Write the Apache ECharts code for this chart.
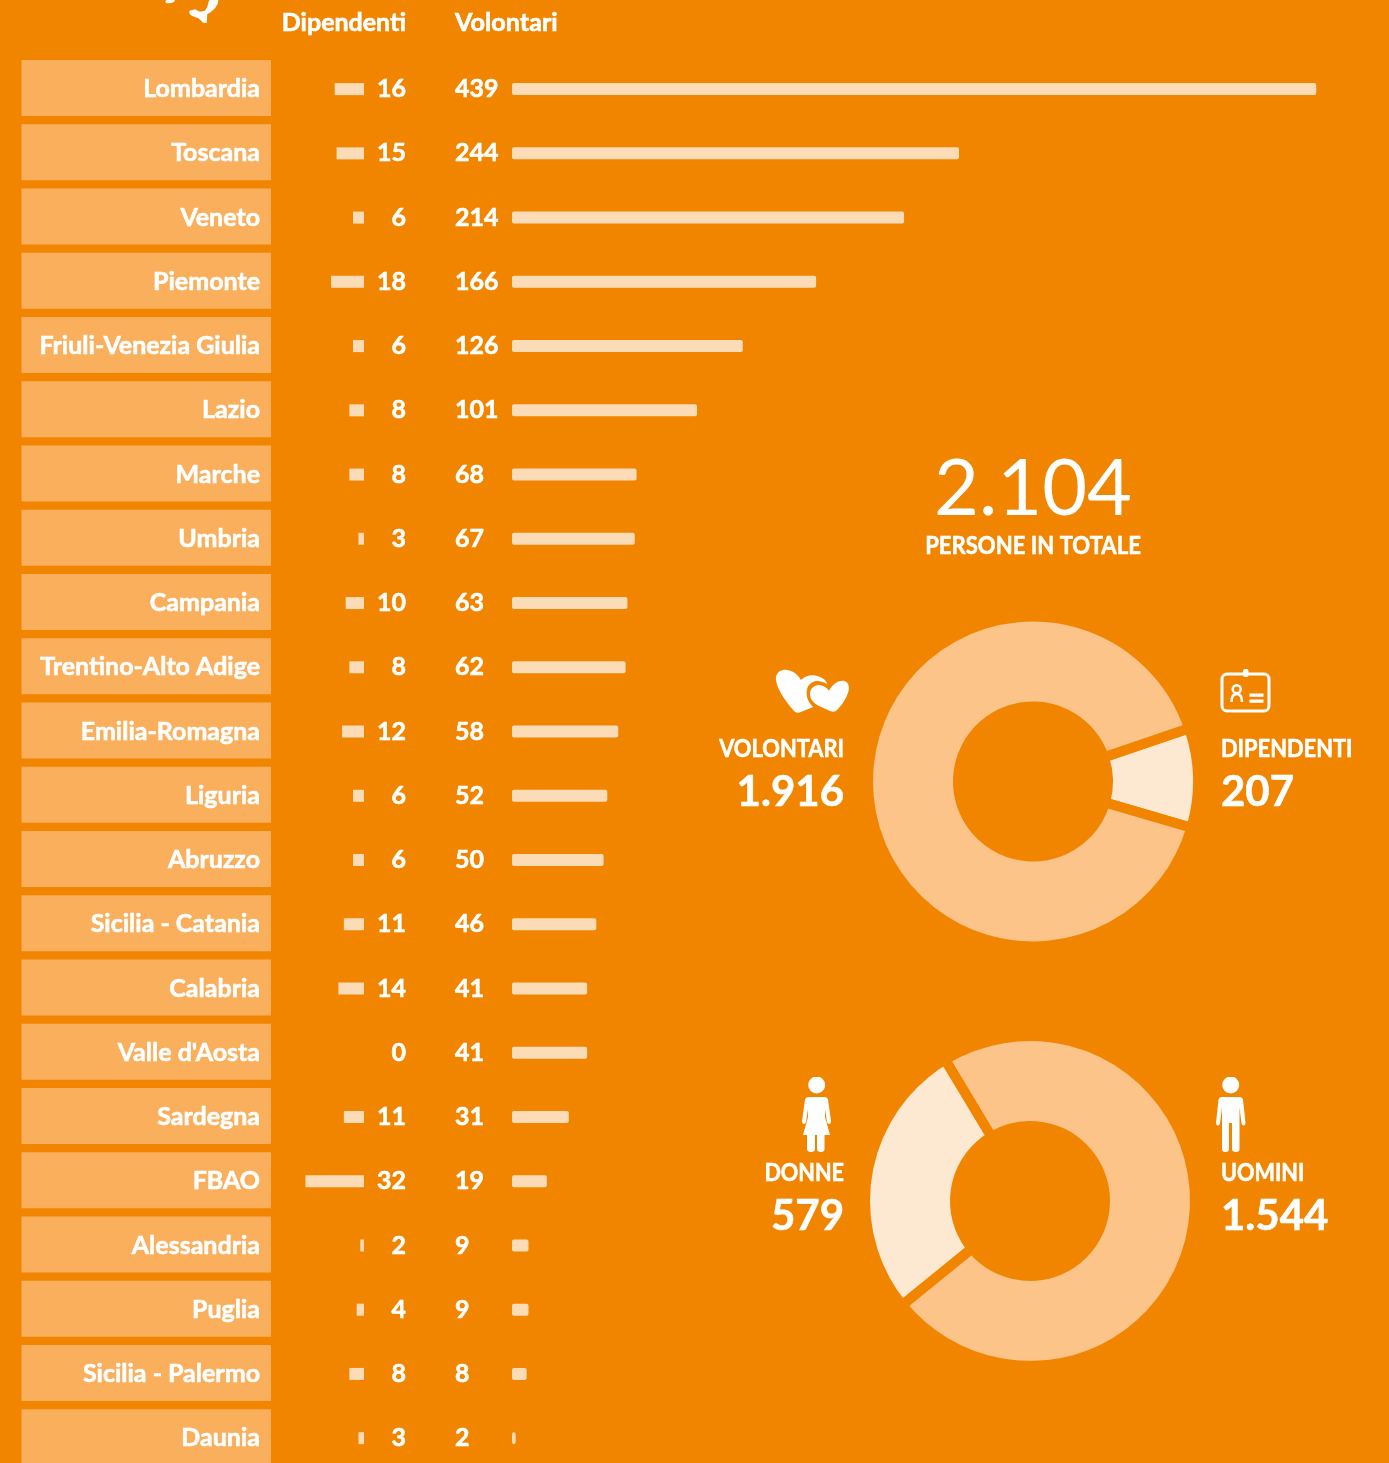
<!DOCTYPE html>
<html>
<head>
<meta charset="utf-8">
<style>html,body{margin:0;padding:0;background:#f28500;height:1463px;overflow:hidden}#chart{width:1389px;height:1480px}</style>
<script src="https://cdn.jsdelivr.net/npm/echarts@6/dist/echarts.min.js"></script>
</head>
<body>
<div id="chart"></div>
<script>
const regioni = ["Lombardia","Toscana","Veneto","Piemonte","Friuli-Venezia Giulia","Lazio","Marche","Umbria","Campania","Trentino-Alto Adige","Emilia-Romagna","Liguria","Abruzzo","Sicilia - Catania","Calabria","Valle d'Aosta","Sardegna","FBAO","Alessandria","Puglia","Sicilia - Palermo","Daunia"];
const dipendenti = [16,15,6,18,6,8,8,3,10,8,12,6,6,11,14,0,11,32,2,4,8,3];
const volontari = [439,244,214,166,126,101,68,67,63,62,58,52,50,46,41,41,31,19,9,9,8,2];
const tipoNomi = ["Dipendenti","Volontari"];
const tipoValori = [207,1916];
const genereNomi = ["Uomini","Donne"];
const genereValori = [1544,579];

const FONT = "Lato";
const BG = "#f28500";
const BAND = "#faaf5d";
const BAR = "#fcdcb6";
const RING = "#fcc489";
const RING_LIGHT = "#fde8d2";
const ROW_TOP = 57, ROW_H = 1413.3;

// Lato bold is a bit lighter than the original face, a thin outline makes up for it
const heavy = { textBorderColor: "#fff", textBorderWidth: 0.6 };

function txt(x, y, text, size, align, weight, sx) {
  const bold = !weight || weight === "bold";
  return {
    type: "text", x: x, y: y, scaleX: sx || 1,
    style: Object.assign({ text: text, fill: "#fff", font: (weight || "bold") + " " + size + "px " + FONT, textAlign: align, textVerticalAlign: "middle" }, bold ? { stroke: "#fff", lineWidth: 0.6 } : {}),
  };
}
// icons are plain svg drawn through a graphic image element
function icon(body, x, y, w, h) {
  const svg = '<svg xmlns="http://www.w3.org/2000/svg" width="' + w + '" height="' + h + '" viewBox="0 0 ' + w + ' ' + h + '" fill="#fff">' + body + "</svg>";
  return { type: "image", x: x, y: y, style: { image: "data:image/svg+xml;charset=utf-8," + encodeURIComponent(svg), width: w, height: h } };
}
const HEAD = '<circle cx="15.7" cy="8" r="8.5"/>';
const MAN = HEAD + '<path d="M8 20H25Q27.5 20 28 22.5L30.5 46Q30.5 48.5 28.5 48.5 27 48.5 26.5 46.5L24.5 30V72Q24.5 75 21 75 17 75 17 72V46H14V72Q14 75 10.5 75 7 75 7 72V30L5 46.5Q4.5 48.5 3 48.5 1 48.5 1 46L3.5 22.5Q4 20 6.5 20Z"/>';
const WOMAN = HEAD + '<path d="M8 20H24Q26.5 20 27 22.5L30 44Q30 47 28 47 26.5 47 26 45L24 32V40L29 58H23.5V72Q23.5 75 20 75 16 75 16 72V58H14V72Q14 75 10 75 6 75 6 72V58H2L7 40V32L5 45Q4.5 47 3 47 1 47 1 44L4 22.5Q4.5 20 7 20Z"/>';
const HEARTS = '<path d="M11 20C10 13 16 9 22 10 29 11 33 15 36 20 41 15 48 14 55 17 60 19 62 22 62 24 55 20 49 20 45 24 41 27 41 35 43 40 44 42 46 45 48 47L36 52C33 53 31 53 29 51 22 43 12 30 11 20Z"/><path d="M45 34C45 27 52 23 58 26 61 27 63 29 64 31 67 25 73 20 79 21 84 22 85 28 83 33 80 41 76 46 72 50 70 52 68 52 65 51 57 47 45 44 45 34Z"/>';
const BADGE = '<rect x="12" y="14" width="47" height="37" rx="5" fill="none" stroke="#fff" stroke-width="3"/><rect x="33" y="9" width="5.5" height="8" rx="2"/><circle cx="26.7" cy="29.3" r="4" fill="none" stroke="#fff" stroke-width="2.5"/><path d="M21.5 42C21.5 36 24 34 26.7 34 29.5 34 32 36 32 42" fill="none" stroke="#fff" stroke-width="2.5"/><rect x="39.5" y="33.5" width="14" height="3.3"/><rect x="39.5" y="39.5" width="14" height="3.3"/>';
const ITALIA = '<g transform="scale(0.3333)"><path d="M45 5L50 0H75L72 6 60 10H50Z"/><path d="M118 32L135 28 150 35 165 32 172 20 175 8 178 0H205L203 12 195 25 180 38 172 42 170 70 160 68 145 55 125 47 118 40Z"/></g>';

const chart = echarts.init(document.getElementById("chart"));
chart.setOption({
  backgroundColor: BG,
  animation: false,
  textStyle: { fontFamily: FONT },
  grid: [
    { left: 21.5, width: 249.5, top: ROW_TOP - 1, height: ROW_H },
    { left: 181, width: 183, top: ROW_TOP, height: ROW_H },
    { left: 512, width: 824.4, top: ROW_TOP, height: ROW_H },
  ],
  xAxis: [
    { gridIndex: 0, type: "value", min: 0, max: 1, show: false },
    { gridIndex: 1, type: "value", min: 0, max: 100, inverse: true, show: false },
    { gridIndex: 2, type: "value", min: 0, max: 450, show: false },
  ],
  yAxis: [
    { gridIndex: 0, type: "category", inverse: true, data: regioni, show: false },
    {
      gridIndex: 1, type: "category", inverse: true, position: "right", data: dipendenti.map(String),
      axisLine: { show: false }, axisTick: { show: false },
      axisLabel: Object.assign({ interval: 0, margin: 42, align: "right", color: "#fff", fontFamily: FONT, fontWeight: "bold", fontSize: 25 }, heavy),
    },
    {
      gridIndex: 2, type: "category", inverse: true, data: volontari.map(String),
      axisLine: { show: false }, axisTick: { show: false },
      axisLabel: Object.assign({ interval: 0, margin: 57, align: "left", color: "#fff", fontFamily: FONT, fontWeight: "bold", fontSize: 25 }, heavy),
    },
  ],
  series: [
    {
      type: "bar", xAxisIndex: 0, yAxisIndex: 0, barWidth: 56, silent: true,
      data: regioni.map(() => 1),
      itemStyle: { color: BAND },
      label: Object.assign({
        show: true, position: "insideRight", distance: 11, offset: [0, 1], color: "#fff",
        fontFamily: FONT, fontWeight: "bold", fontSize: 25,
        formatter: (p) => p.name,
      }, heavy),
    },
    { type: "bar", xAxisIndex: 1, yAxisIndex: 1, barWidth: 12, data: dipendenti, itemStyle: { color: BAR } },
    { type: "bar", xAxisIndex: 2, yAxisIndex: 2, barWidth: 12, data: volontari, itemStyle: { color: BAR, borderRadius: 2 } },
    {
      type: "pie", center: [1033, 781.5], radius: [75, 165], startAngle: 18.8, silent: true,
      label: { show: false }, labelLine: { show: false },
      itemStyle: { borderColor: BG, borderWidth: 10 },
      data: tipoNomi.map((n, i) => ({ name: n, value: tipoValori[i], itemStyle: { color: i === 0 ? RING_LIGHT : RING } })),
    },
    {
      type: "pie", center: [1030, 1201], radius: [75, 165], startAngle: 121, silent: true,
      label: { show: false }, labelLine: { show: false },
      itemStyle: { borderColor: BG, borderWidth: 10 },
      data: genereNomi.map((n, i) => ({ name: n, value: genereValori[i], itemStyle: { color: i === 1 ? RING_LIGHT : RING } })),
    },
  ],
  graphic: [
    txt(406, 23, "Dipendenti", 24, "right", "bold", 1.04),
    txt(455, 23, "Volontari", 24, "left", "bold", 1.05),
    txt(1033, 490, "2.104", 77.5, "center", "normal"),
    txt(1033, 546, "PERSONE IN TOTALE", 24, "center", "bold", 0.92),
    txt(844, 749, "VOLONTARI", 24, "right", "bold", 0.91),
    txt(844, 792, "1.916", 42, "right"),
    txt(1221, 749, "DIPENDENTI", 24, "left", "bold", 0.91),
    txt(1221, 792, "207", 42, "left"),
    txt(844, 1173, "DONNE", 24, "right", "bold", 0.9),
    txt(844, 1216, "579", 42, "right"),
    txt(1221, 1173, "UOMINI", 24, "left", "bold", 0.9),
    txt(1221, 1216, "1.544", 42, "left"),
    icon(ITALIA, 150, 0, 90, 40),
    icon(HEARTS, 765, 660, 100, 65),
    icon(BADGE, 1210, 660, 70, 65),
    icon(WOMAN, 801, 1077, 31, 76),
    icon(MAN, 1215, 1077, 31, 76),
  ],
});
</script>
</body>
</html>
